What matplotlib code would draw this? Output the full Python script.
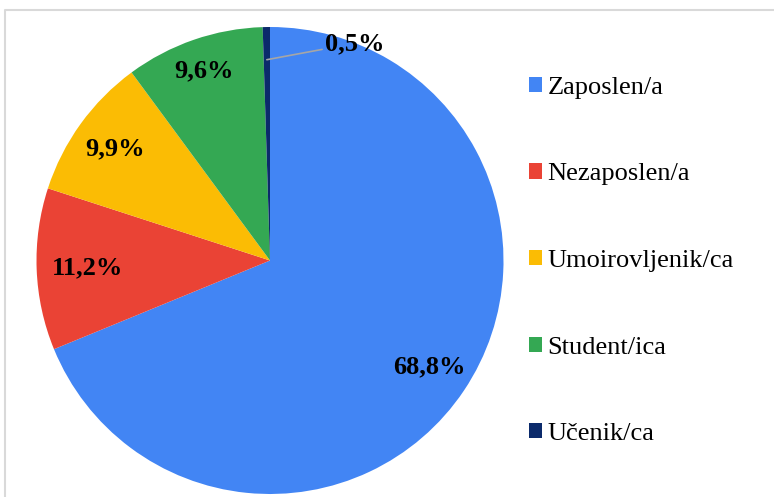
import numpy as np
import matplotlib.pyplot as plt
from matplotlib.lines import Line2D

# podaci
kategorije = ['Zaposlen/a', 'Nezaposlen/a', 'Umoirovljenik/ca', 'Student/ica', 'Učenik/ca']
udjeli = [68.8, 11.2, 9.9, 9.6, 0.5]
boje = ['#4285F4', '#EA4335', '#FBBC04', '#34A853', '#0B2A6B']

plt.rcParams['font.family'] = ['Liberation Serif', 'DejaVu Serif']

W, H = 774, 497
fig = plt.figure(figsize=(W / 100, H / 100), dpi=100)

# okvir (siva linija gore i lijevo)
fig.add_artist(Line2D([5 / W, 5 / W, 1], [0, 1 - 10 / H, 1 - 10 / H],
                      color='#d9d9d9', lw=1.5, transform=fig.transFigure))

# os za pitu: sredina (270, 260.5), polumjer 233.5 px
cx, cy, r = 270, 260.5, 233.5
ax = fig.add_axes([(cx - r) / W, (H - cy - r) / H, 2 * r / W, 2 * r / H])

wedges, texts, autotexts = ax.pie(
    udjeli, colors=boje, startangle=90, counterclock=False, radius=1,
    autopct=lambda p: ('%.1f%%' % p).replace('.', ','), pctdistance=0.82,
    textprops=dict(fontsize=19, fontweight='bold', color='black'))
ax.set_xlim(-1, 1)
ax.set_ylim(-1, 1)
ax.set_aspect('equal')
ax.axis('off')

# malo pomaknute oznake (kao u originalu)
udaljenosti = [0.82, 0.78, 0.82, 0.86]
for w, t, d in zip(wedges, autotexts, udaljenosti):
    k = np.deg2rad((w.theta1 + w.theta2) / 2)
    t.set_position((d * np.cos(k), d * np.sin(k)))

# mali udio – oznaka izvan pite s linijom
w = wedges[-1]
kut = np.deg2rad((w.theta1 + w.theta2) / 2)
autotexts[-1].set_visible(False)
ax.annotate(('%.1f%%' % udjeli[-1]).replace('.', ','),
            xy=(0.86 * np.cos(kut), 0.86 * np.sin(kut)),
            xytext=(0.235, 0.93), ha='left', va='center',
            fontsize=19, fontweight='bold',
            arrowprops=dict(arrowstyle='-', color='#a6a6a6', lw=1.2,
                            shrinkA=0, shrinkB=0))

fig.legend(wedges, kategorije, loc='center left', bbox_to_anchor=(505 / W, 1 - 261 / H),
           frameon=False, fontsize=19, labelspacing=2.45, handlelength=0.5,
           handleheight=0.5, handletextpad=0.2)

fig.savefig('out.png', dpi=100)
